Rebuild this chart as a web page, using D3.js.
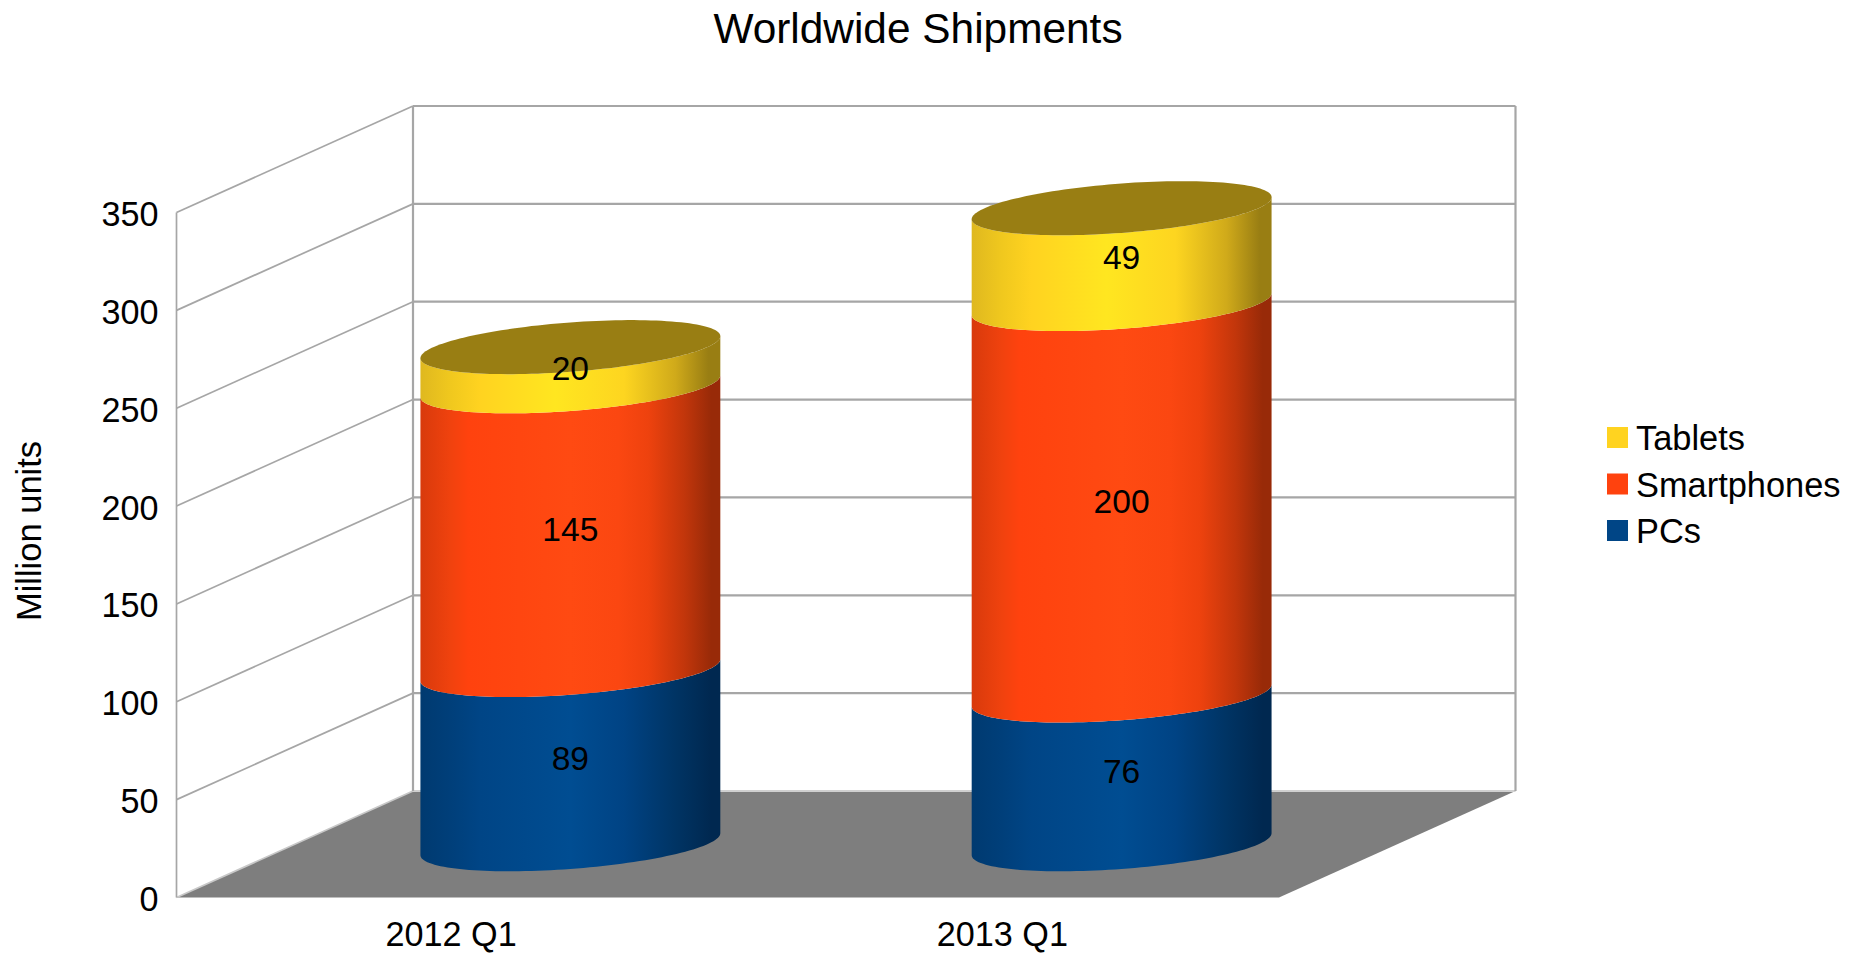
<!DOCTYPE html>
<html><head><meta charset="utf-8">
<script src="https://cdn.jsdelivr.net/npm/d3@7"></script>
<style>html,body{margin:0;padding:0;background:#fff}svg{display:block}text{font-family:"Liberation Sans",Arial,sans-serif;fill:#000}</style>
</head><body><svg id="c" width="1865" height="954"></svg>
<script>
const categories = ["2012 Q1", "2013 Q1"];
const pcs = [89, 76];
const smartphones = [145, 200];
const tablets = [20, 49];
const seriesNames = ["PCs", "Smartphones", "Tablets"];
const yTicks = [0, 50, 100, 150, 200, 250, 300, 350];
const title = "Worldwide Shipments";
const yTitle = "Million units";

const seriesValues = [pcs, smartphones, tablets];
const frontL = 176.5, frontR = 1279, frontBase = 897.5, frontTop = 212.5;
const depthX = 236.5, depthY = 106.5;
const grid = "#a6a6a6";
const solid = ["#004586", "#ff420e", "#ffd320"];
const lid = "#997e13";
const shades = [
  [[0,"#003a70"],[.1,"#003f7a"],[.2,"#004586"],[.5,"#004d92"],[.68,"#004384"],[.85,"#003464"],[.97,"#002850"],[1,"#002850"]],
  [[0,"#d83a0c"],[.1,"#f0420e"],[.16,"#ff420e"],[.5,"#ff4a12"],[.66,"#fb4711"],[.76,"#ee420e"],[.88,"#c2360b"],[.97,"#982a08"],[1,"#982a08"]],
  [[0,"#dfb81f"],[.1,"#f0c81e"],[.2,"#ffd320"],[.45,"#ffe620"],[.68,"#fdd520"],[.85,"#d0aa1a"],[.96,lid],[1,lid]]
];

const svg = d3.select("#c");
const y = d3.scaleLinear().domain([0, 350]).range([frontBase, frontTop]);
const x = d3.scaleBand().domain(categories).range([frontL, frontR]);
const barW = x.bandwidth() * 0.544;
const R = barW / 2;

const defs = svg.append("defs");
shades.forEach((stops, i) => {
  const g = defs.append("linearGradient").attr("id", "g" + i).attr("x1", 0).attr("x2", 1).attr("y1", 0).attr("y2", 0);
  stops.forEach(s => g.append("stop").attr("offset", s[0]).attr("stop-color", s[1]));
});

svg.append("path").attr("fill", "#7e7e7e").attr("d", d3.line()([
  [frontL, frontBase], [frontL + depthX, frontBase - depthY], [frontR + depthX, frontBase - depthY], [frontR, frontBase]
]));

const gridG = svg.append("g").attr("fill", "none").attr("stroke", grid);
yTicks.forEach(t => {
  const yy = y(t);
  gridG.append("line").attr("x1", frontL).attr("y1", yy).attr("x2", frontL + depthX).attr("y2", yy - depthY)
    .attr("stroke-width", 1.7).attr("stroke", t === 0 ? "#c8c8c8" : grid);
  gridG.append("line").attr("x1", frontL + depthX).attr("y1", yy - depthY).attr("x2", frontR + depthX).attr("y2", yy - depthY)
    .attr("stroke-width", 2.2).attr("stroke", t === 0 ? "#d0d0d0" : grid);
});
gridG.append("line").attr("x1", frontL).attr("x2", frontL).attr("y1", y(350)).attr("y2", y(0)).attr("stroke-width", 1.7);
gridG.append("line").attr("x1", frontL + depthX).attr("x2", frontL + depthX).attr("y1", y(350) - depthY).attr("y2", y(0) - depthY).attr("stroke-width", 2.2);
gridG.append("line").attr("x1", frontR + depthX).attr("x2", frontR + depthX).attr("y1", y(350) - depthY).attr("y2", y(0) - depthY).attr("stroke-width", 2.2);

const tiltA = -11, tiltB = 24.7;
const rim = (cx, cy, a) => [cx + R * Math.cos(a), cy + tiltA * Math.cos(a) + tiltB * Math.sin(a)];
const line = d3.line();
const N = 72;
const angles = d3.range(N + 1).map(i => Math.PI * i / N);

categories.forEach((c, ci) => {
  const cx = x(c) + x.bandwidth() / 2 + depthX / 2;
  const base = v => y(v) - depthY / 2;
  let cum = 0;
  seriesValues.forEach((vals, si) => {
    const v0 = cum, v1 = cum + vals[ci];
    cum = v1;
    const lower = angles.map(a => rim(cx, base(v0), a));
    const upper = angles.slice().reverse().map(a => rim(cx, base(v1), a));
    svg.append("path").attr("fill", `url(#g${si})`).attr("d", line(lower.concat(upper)) + "Z");
  });
  const full = d3.range(145).map(i => rim(cx, base(cum), 2 * Math.PI * i / 144));
  svg.append("path").attr("fill", lid).attr("d", line(full) + "Z");
});

categories.forEach((c, ci) => {
  const cx = x(c) + x.bandwidth() / 2 + depthX / 2;
  let cum = 0;
  seriesValues.forEach(vals => {
    const mid = cum + vals[ci] / 2;
    cum += vals[ci];
    svg.append("text").attr("x", cx).attr("y", y(mid) - depthY / 2 + 1.5).attr("dy", "0.35em")
      .attr("text-anchor", "middle").attr("font-size", 33.6).text(vals[ci]);
  });
});

const axL = svg.append("g").attr("transform", `translate(${frontL - 8},1)`)
  .call(d3.axisLeft(y).tickValues(yTicks).tickSize(0).tickPadding(0).tickFormat(d3.format("d")));
axL.select(".domain").remove();
axL.selectAll("text").attr("font-family", '"Liberation Sans"').attr("font-size", 34.2).attr("fill", "#000").attr("dy", "0.35em").attr("x", -10);

const axB = svg.append("g").attr("transform", `translate(0,${frontBase})`)
  .call(d3.axisBottom(x).tickSize(0).tickPadding(0));
axB.select(".domain").remove();
axB.selectAll("text").attr("font-family", '"Liberation Sans"').attr("font-size", 34.2).attr("fill", "#000").attr("y", 0).attr("dy", 0)
  .attr("transform", "translate(-1,48.5)");

svg.append("text").attr("x", 918).attr("y", 43).attr("text-anchor", "middle").attr("font-size", 42.4).text(title);
svg.append("text").attr("transform", "translate(41,531) rotate(-90)").attr("text-anchor", "middle").attr("font-size", 34.5).text(yTitle);

const order = [2, 1, 0];
order.forEach((si, i) => {
  const ly = 427 + i * 46.5;
  svg.append("rect").attr("x", 1607).attr("y", ly).attr("width", 21).attr("height", 21).attr("fill", solid[si]);
  svg.append("text").attr("x", 1636).attr("y", ly + 23).attr("font-size", 34.4).text(seriesNames[si]);
});
</script></body></html>
